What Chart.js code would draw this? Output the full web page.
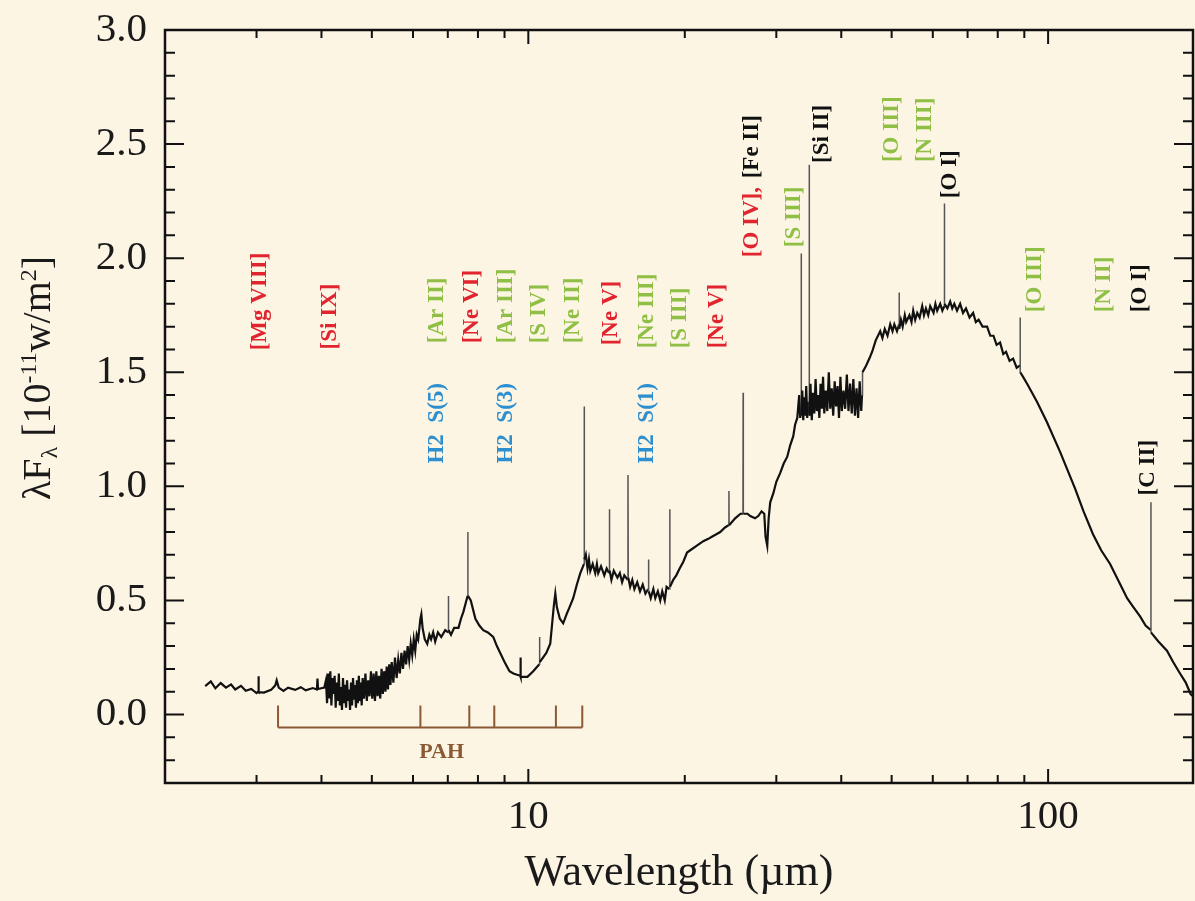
<!DOCTYPE html>
<html>
<head>
<meta charset="utf-8">
<script src="https://cdn.jsdelivr.net/npm/chart.js@4.4.1/dist/chart.umd.min.js"></script>
<style>
  html, body { margin: 0; padding: 0; background: #fcf5e4; }
</style>
</head>
<body>
<canvas id="myChart" width="1195" height="901"></canvas>
<script>
// spectrum as [wavelength (um), lambda F_lambda (1e-11 W/m2)]
const specShort = [
  [2.39,0.125],[2.45,0.145],[2.50,0.115],[2.56,0.138],[2.62,0.118],[2.68,0.132],[2.73,0.110],[2.80,0.126],
  [2.86,0.104],[2.93,0.112],[3.00,0.094],[3.02,0.100],[3.026,0.168],[3.03,0.098],[3.10,0.096],[3.20,0.108],
  [3.26,0.128],[3.28,0.150],[3.31,0.118],[3.38,0.104],[3.45,0.118],[3.56,0.108],[3.65,0.120],[3.73,0.106],
  [3.85,0.116],[3.92,0.110],[3.93,0.158],[3.94,0.112],[4.05,0.118],
  [4.08,0.15],[4.10,0.05],[4.12,0.18],[4.14,0.07],[4.16,0.19],[4.18,0.04],[4.20,0.16],[4.22,0.09],
  [4.24,0.17],[4.26,0.03],[4.28,0.14],[4.30,0.06],[4.32,0.18],[4.34,0.04],[4.36,0.12],[4.38,0.02],
  [4.40,0.16],[4.42,0.05],[4.44,0.13],[4.46,0.03],[4.48,0.15],[4.50,0.06],[4.52,0.11],[4.54,0.02],
  [4.56,0.14],[4.58,0.04],[4.60,0.16],[4.62,0.07],[4.64,0.13],[4.66,0.03],[4.68,0.15],[4.70,0.05],
  [4.72,0.17],[4.74,0.06],[4.76,0.14],[4.78,0.04],[4.80,0.16],[4.83,0.07],[4.86,0.18],[4.89,0.06],
  [4.92,0.15],[4.95,0.08],[4.98,0.19],[5.01,0.07],[5.04,0.18],[5.07,0.06],[5.10,0.19],[5.13,0.08],
  [5.16,0.17],[5.19,0.07],[5.22,0.20],[5.25,0.09],[5.28,0.19],[5.31,0.10],[5.34,0.21],[5.37,0.11],
  [5.40,0.22],[5.43,0.13],[5.46,0.23],[5.50,0.14],[5.54,0.25],[5.58,0.16],[5.62,0.24],[5.66,0.18],
  [5.70,0.27],[5.74,0.20],[5.78,0.28],[5.82,0.22],[5.86,0.30],[5.90,0.24],[5.94,0.31],[5.98,0.26],
  [6.02,0.33],[6.06,0.28],[6.10,0.35],[6.14,0.33],[6.20,0.42],[6.226,0.44],[6.26,0.38],[6.32,0.33],
  [6.39,0.31],[6.45,0.35],[6.50,0.33],[6.56,0.36],[6.62,0.32],[6.70,0.36],[6.80,0.34],[6.92,0.37],
  [7.01,0.36],[7.018,0.52],[7.025,0.37],[7.10,0.35],[7.20,0.38],[7.34,0.38],[7.42,0.42],[7.50,0.45],
  [7.60,0.50],[7.645,0.52],[7.65,0.80],[7.655,0.52],[7.75,0.50],[7.91,0.42],[8.05,0.39],[8.19,0.37],
  [8.36,0.36],[8.56,0.34],[8.70,0.30],[8.83,0.27],[9.00,0.23],[9.20,0.19],[9.36,0.18],[9.65,0.17],
  [9.66,0.25],[9.67,0.165],[9.96,0.165],[10.22,0.19],[10.50,0.22],[10.51,0.34],[10.52,0.23],[10.83,0.27],
  [11.02,0.31],[11.20,0.48],[11.27,0.53],[11.35,0.47],[11.50,0.42],[11.67,0.40],[11.85,0.44],[12.0,0.47],
  [12.2,0.51],[12.4,0.57],[12.59,0.62],[12.80,0.66]
];
const specMid = [
  [12.81,1.35],[12.82,0.68],[12.9,0.70],[13.0,0.64],[13.08,0.68],[13.16,0.63],[13.3,0.66],[13.45,0.62],
  [13.55,0.66],[13.63,0.62],[13.8,0.65],[14.0,0.61],[14.15,0.64],[14.30,0.62],[14.32,0.90],[14.34,0.63],
  [14.45,0.59],[14.6,0.63],[14.84,0.60],[15.0,0.62],[15.15,0.58],[15.3,0.61],[15.53,0.59],[15.55,1.05],
  [15.57,0.60],[15.7,0.56],[15.85,0.59],[16.0,0.55],[16.2,0.58],[16.4,0.54],[16.6,0.57],[16.8,0.53],
  [17.01,0.55],[17.03,0.68],[17.05,0.54],[17.2,0.51],[17.4,0.55],[17.55,0.51],[17.75,0.54],[17.94,0.50],
  [18.1,0.54],[18.3,0.50],[18.45,0.56],[18.69,0.55],[18.71,0.90],[18.73,0.56],[19.0,0.59],[19.26,0.61],
  [19.55,0.64],[19.87,0.67],[20.2,0.71],[20.49,0.72],[21.1,0.74],[21.71,0.76],[22.2,0.77],[22.59,0.78],
  [23.0,0.79],[23.40,0.80],[23.9,0.82],[24.30,0.83],[24.32,0.98],[24.34,0.83],[25.0,0.86],[25.6,0.88],
  [25.88,0.88],[25.90,1.41],[25.92,0.88],[26.4,0.88],[26.73,0.87],[27.3,0.86],[27.69,0.87],[28.1,0.89],
  [28.44,0.88],[28.6,0.78],[28.82,0.74],[29.0,0.86],[29.2,0.93],[29.61,0.97],[30.0,1.02],[30.54,1.06],
  [31.0,1.10],[31.49,1.13],[31.9,1.18],[32.34,1.22],[32.6,1.27],[32.92,1.30],
  [33.20,1.40],[33.35,1.30],[33.48,1.33],[33.50,2.02],[33.52,1.31],[33.65,1.42],[33.80,1.29],[33.95,1.39],
  [34.10,1.31],[34.25,1.44],[34.40,1.30],[34.55,1.37],[34.70,1.32],[34.71,2.41],[34.73,1.31],[34.9,1.45],
  [35.1,1.29],[35.3,1.41],[35.5,1.32],[35.7,1.47],[35.9,1.33],[36.1,1.40],[36.3,1.30],[36.5,1.45],
  [36.7,1.34],[36.9,1.48],[37.1,1.32],[37.35,1.42],[37.6,1.33],[37.85,1.50],[38.1,1.34],[38.35,1.43],
  [38.6,1.31],[38.85,1.46],[39.1,1.35],[39.35,1.44],[39.6,1.30],[39.85,1.48],[40.1,1.33],[40.4,1.42],
  [40.7,1.34],[41.0,1.49],[41.3,1.33],[41.6,1.45],[41.9,1.32],[42.2,1.47],[42.5,1.31],[42.8,1.43],
  [43.1,1.30],[43.4,1.46],[43.7,1.33],[43.85,1.40]
];
const specLong = [
  [43.95,1.50],[44.67,1.53],[45.3,1.56],[45.87,1.59],[46.6,1.64],[47.53,1.68],[48.0,1.65],[48.5,1.69],
  [49.1,1.66],[49.69,1.71],[50.2,1.68],[50.6,1.71],[51.2,1.68],[51.68,1.71],[51.70,1.85],[51.72,1.69],
  [52.1,1.73],[52.5,1.70],[53.0,1.75],[53.33,1.72],[54.1,1.75],[54.6,1.72],[55.01,1.77],[55.5,1.73],
  [56.0,1.76],[56.6,1.74],[57.25,1.79],[57.7,1.75],[58.2,1.78],[58.8,1.75],[59.32,1.79],[60.2,1.76],
  [60.7,1.80],[61.18,1.77],[62.0,1.80],[62.6,1.77],[63.16,1.79],[63.18,2.24],[63.20,1.80],[64.0,1.78],
  [64.80,1.81],[65.4,1.78],[66.0,1.80],[66.8,1.77],[67.73,1.80],[68.6,1.76],[69.5,1.78],[70.6,1.74],
  [71.74,1.76],[72.6,1.72],[73.5,1.73],[74.8,1.70],[76.32,1.70],[77.4,1.66],[78.5,1.66],[79.6,1.62],
  [80.84,1.63],[82.0,1.58],[83.0,1.59],[84.3,1.55],[85.64,1.56],[87.0,1.52],[88.34,1.53],[88.36,1.74],
  [88.38,1.50],[89.5,1.48],[91.12,1.45],[95.24,1.37],[99.56,1.28],[105.5,1.15],[112.7,0.99],[117,0.89],
  [122.0,0.79],[126.5,0.72],[131.6,0.66],[137,0.58],[141.9,0.51],[146,0.47],[150.3,0.43],[154,0.39],
  [157.68,0.37],[157.70,0.93],[157.72,0.36],[163,0.32],[169.3,0.28],[174,0.23],[179.4,0.18],[184,0.14],
  [188,0.09],[190,0.08]
];

// axes
const xRange = [2, 190];
const yRange = [-0.3, 3.0];
const xTickValues = [10, 100];
const xMinorTicks = [3, 4, 5, 6, 7, 8, 9, 20, 30, 40, 50, 60, 70, 80, 90];
const yTickValues = [0.0, 0.5, 1.0, 1.5, 2.0, 2.5, 3.0];
const yMinorTicks = [-0.2, -0.1, 0.1, 0.2, 0.3, 0.4, 0.6, 0.7, 0.8, 0.9, 1.1, 1.2, 1.3, 1.4,
  1.6, 1.7, 1.8, 1.9, 2.1, 2.2, 2.3, 2.4, 2.6, 2.7, 2.8, 2.9];

// line identifications: text, wavelength where the label sits, flux where it starts, group
const labelText = ['[Mg VIII]', '[Si IX]', '[Ar II]', '[Ne VI]', '[Ar III]', '[S IV]', '[Ne II]', '[Ne V]',
  '[Ne III]', '[S III]', '[Ne V]', '[O IV],', '[Fe II]', '[S III]', '[Si II]', '[O III]', '[N III]', '[O I]',
  '[O III]', '[N II]', '[O I]', '[C II]', 'H2  S(5)', 'H2  S(3)', 'H2  S(1)'];
const labelWave = [3.05, 4.16, 6.68, 7.80, 9.07, 10.5, 12.2, 14.4, 16.9, 19.6, 23.1, 27.0, 27.0, 32.4, 36.8,
  50.1, 58.0, 64.8, 94.4, 128, 150, 156, 6.68, 9.07, 16.9];
const labelFlux = [1.596, 1.60, 1.627, 1.627, 1.627, 1.627, 1.627, 1.618, 1.605, 1.605, 1.605, 2.004, 2.35,
  2.048, 2.417, 2.421, 2.421, 2.263, 1.763, 1.763, 1.763, 0.96, 1.10, 1.10, 1.10];
const labelGroup = ['coronal', 'coronal', 'ionized', 'coronal', 'ionized', 'ionized', 'ionized', 'coronal',
  'ionized', 'ionized', 'coronal', 'coronal', 'neutral', 'ionized', 'neutral', 'ionized', 'ionized', 'neutral',
  'ionized', 'ionized', 'neutral', 'neutral', 'h2', 'h2', 'h2'];

// PAH features
const pahWave = [3.3, 6.2, 7.7, 8.6, 11.3, 12.7];

const groupColor = { coronal: '#e0252f', ionized: '#8fbf45', h2: '#2d8fd0', neutral: '#111111' };
const serif = "'Liberation Serif', 'Times New Roman', serif";
const bg = '#fcf5e4';

const spectrum = specShort.concat(specMid, specLong).map(p => ({ x: p[0], y: p[1] }));

const isSpike = (ctx) => ctx.p1.parsed.x / ctx.p0.parsed.x < 1.003 &&
  Math.abs(ctx.p1.parsed.y - ctx.p0.parsed.y) > 0.1;

const decor = {
  id: 'decor',
  beforeDraw(chart) {
    const c = chart.ctx;
    c.save();
    c.fillStyle = bg;
    c.fillRect(0, 0, chart.width, chart.height);
    c.restore();
  },
  afterDatasetsDraw(chart) {
    const c = chart.ctx;
    const a = chart.chartArea;
    const xs = chart.scales.x, ys = chart.scales.y;
    c.save();

    // PAH bracket
    const yBar = ys.getPixelForValue(-0.057), yTop = ys.getPixelForValue(0.04);
    c.strokeStyle = '#8b5a34';
    c.lineWidth = 2;
    c.beginPath();
    c.moveTo(xs.getPixelForValue(pahWave[0]), yBar);
    c.lineTo(xs.getPixelForValue(pahWave[pahWave.length - 1]), yBar);
    pahWave.forEach(w => {
      const px = xs.getPixelForValue(w);
      c.moveTo(px, yBar);
      c.lineTo(px, yTop);
    });
    c.stroke();
    c.fillStyle = '#8b5a34';
    c.font = 'bold 22px ' + serif;
    c.textAlign = 'center';
    c.textBaseline = 'middle';
    c.fillText('PAH', xs.getPixelForValue(6.81), ys.getPixelForValue(-0.167));

    // line labels, rotated
    c.font = 'bold 23px ' + serif;
    c.textAlign = 'left';
    labelText.forEach((t, i) => {
      c.save();
      c.translate(xs.getPixelForValue(labelWave[i]), ys.getPixelForValue(labelFlux[i]));
      c.rotate(-Math.PI / 2);
      c.fillStyle = groupColor[labelGroup[i]];
      c.fillText(t, 0, 0);
      c.restore();
    });

    // frame and inward ticks on all sides
    c.strokeStyle = '#111';
    c.lineWidth = 2.5;
    c.strokeRect(a.left, a.top, a.right - a.left, a.bottom - a.top);
    c.lineWidth = 2;
    c.beginPath();
    const yt = (v, len) => {
      const py = ys.getPixelForValue(v);
      c.moveTo(a.left, py); c.lineTo(a.left + len, py);
      c.moveTo(a.right, py); c.lineTo(a.right - len, py);
    };
    const xt = (v, len) => {
      const px = xs.getPixelForValue(v);
      c.moveTo(px, a.bottom); c.lineTo(px, a.bottom - len);
      c.moveTo(px, a.top); c.lineTo(px, a.top + len);
    };
    yTickValues.forEach(v => yt(v, 19));
    yMinorTicks.forEach(v => yt(v, 10));
    xTickValues.forEach(v => xt(v, 14));
    xMinorTicks.forEach(v => xt(v, 8));
    c.stroke();

    // y title with sub/superscripts
    const big = '40px ' + serif, small = '24px ' + serif;
    const parts = [
      ['\u03bbF', big, 0], ['\u03bb', small, 7], [' [10', big, 0], ['-11', small, -14],
      ['w/m', big, 0], ['2', small, -14], [']', big, 0]
    ];
    let total = 0;
    parts.forEach(p => { c.font = p[1]; total += c.measureText(p[0]).width; });
    c.translate(36, 378);
    c.rotate(-Math.PI / 2);
    c.fillStyle = '#1a1a1a';
    c.textBaseline = 'alphabetic';
    let x0 = -total / 2;
    parts.forEach(p => {
      c.font = p[1];
      c.fillText(p[0], x0, 14 + p[2]);
      x0 += c.measureText(p[0]).width;
    });
    c.restore();
  }
};

const ctx = document.getElementById('myChart').getContext('2d');
const myChart = new Chart(ctx, {
  type: 'line',
  data: {
    datasets: [{
      label: 'spectrum',
      data: spectrum,
      borderColor: '#111',
      borderWidth: 2.2,
      pointRadius: 0,
      tension: 0,
      fill: false,
      segment: {
        borderColor: c => isSpike(c) ? '#555' : undefined,
        borderWidth: c => isSpike(c) ? 1.5 : undefined
      }
    }]
  },
  options: {
    responsive: false,
    animation: false,
    layout: { padding: { top: 30, right: 2, left: 0, bottom: 0 } },
    plugins: { legend: { display: false }, tooltip: { enabled: false } },
    scales: {
      x: {
        type: 'logarithmic',
        min: xRange[0],
        max: xRange[1],
        grid: { display: false, drawTicks: false },
        border: { display: false },
        afterBuildTicks: s => { s.ticks = xTickValues.map(v => ({ value: v })); },
        afterFit: s => { s.height = 118; s.paddingLeft = 0; s.paddingRight = 0; },
        ticks: {
          autoSkip: false,
          maxRotation: 0,
          padding: 10,
          color: '#1a1a1a',
          font: { family: serif, size: 41 },
          callback: v => String(v)
        },
        title: {
          display: true,
          text: 'Wavelength (\u00b5m)',
          color: '#1a1a1a',
          font: { family: serif, size: 44 },
          padding: { top: 0, bottom: 1 }
        }
      },
      y: {
        min: yRange[0],
        max: yRange[1],
        grid: { display: false, drawTicks: false },
        border: { display: false },
        afterBuildTicks: s => { s.ticks = yTickValues.map(v => ({ value: v })); },
        afterFit: s => { s.width = 165; s.paddingTop = 0; s.paddingBottom = 0; },
        ticks: {
          padding: 18,
          color: '#1a1a1a',
          font: { family: serif, size: 41 },
          callback: v => Number(v).toFixed(1)
        }
      }
    }
  },
  plugins: [decor]
});
</script>
</body>
</html>
